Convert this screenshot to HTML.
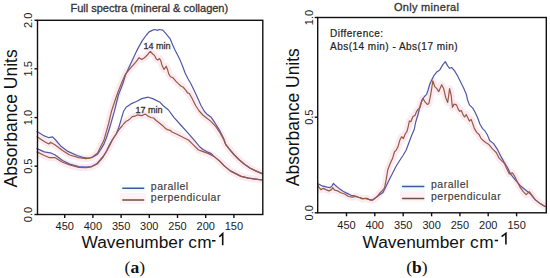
<!DOCTYPE html>
<html><head><meta charset="utf-8"><title>Absorbance spectra</title>
<style>
html,body{margin:0;padding:0;background:#fff;width:550px;height:278px;overflow:hidden}
svg{display:block}
text{font-family:"Liberation Sans",sans-serif}
.tick{font-size:11px;fill:#1a1a1a}
.ylab{font-size:17.5px;fill:#111}
.xlab{font-size:17.3px;fill:#111}
.title{font-size:11px;fill:#333;stroke:#333;stroke-width:0.3px}
.ann{font-size:9px;fill:#333;stroke:#333;stroke-width:0.3px}
.leg{font-size:10.5px;fill:#3a3a3a;letter-spacing:0.5px;stroke:#3a3a3a;stroke-width:0.15px}
.diff{font-size:10px;fill:#222;letter-spacing:0.47px;stroke:#222;stroke-width:0.2px}
.pan{font-family:"Liberation Serif",serif;font-weight:bold;font-size:17.5px;fill:#111}
</style></head>
<body>
<svg width="550" height="278" viewBox="0 0 550 278">
<rect width="550" height="278" fill="#fff"/>
<defs><clipPath id="cl"><rect x="37.5" y="20.3" width="225.3" height="194.2"/></clipPath>
<clipPath id="cr"><rect x="317.7" y="17.5" width="228.6" height="195.3"/></clipPath></defs>
<g fill="none" stroke-linejoin="round" stroke-linecap="round">
<path clip-path="url(#cl)" d="M37.0,136.8 L44.3,141.4 L48.8,144.0 L50.6,142.3 L55.2,145.0 L62.5,150.5 L69.7,155.0 L78.8,157.7 L86.1,158.6 L91.5,157.7 L97.6,152.9 L100.5,147.0 L103.9,140.3 L106.6,130.7 L108.5,124.0 L111.5,111.2 L115.2,100.0 L118.0,92.0 L122.0,82.0 L125.5,74.1 L130.9,67.7 L136.4,61.4 L139.1,57.7 L141.8,59.5 L144.5,57.7 L147.3,55.0 L150.3,51.4 L152.7,54.0 L154.5,55.4 L156.3,59.0 L157.7,59.9 L159.5,58.6 L160.8,60.8 L162.2,65.8 L164.0,69.4 L165.3,67.6 L166.2,66.2 L167.6,69.8 L168.9,74.3 L170.4,76.7 L173.1,77.8 L175.8,81.2 L178.5,83.9 L181.2,86.2 L183.0,87.0 L185.7,90.2 L187.5,92.9 L189.3,93.5 L192.0,98.3 L195.6,105.5 L199.2,111.0 L202.8,115.0 L205.7,117.3 L210.3,120.9 L215.7,126.4 L219.4,131.8 L223.9,140.0 L225.7,144.5 L229.4,149.1 L233.9,154.5 L239.4,160.0 L244.8,164.5 L250.3,168.2 L255.7,170.9 L262.1,173.6" stroke="#fbeaf1" stroke-width="7"/>
<path clip-path="url(#cl)" d="M37.0,151.9 L44.3,155.5 L49.7,157.7 L55.2,157.7 L62.5,162.3 L69.7,165.0 L78.8,167.4 L86.1,167.7 L91.5,166.8 L97.1,164.0 L103.1,157.0 L106.5,151.5 L110.0,145.0 L112.3,140.0 L115.6,134.7 L118.8,129.8 L122.0,126.0 L124.0,123.5 L126.3,121.2 L128.2,120.3 L130.0,118.9 L132.3,116.6 L135.0,116.2 L137.7,114.8 L140.0,115.3 L141.8,115.7 L144.1,114.4 L145.9,114.4 L148.2,116.2 L150.9,117.5 L153.6,118.0 L156.4,120.7 L160.0,123.5 L162.7,125.7 L165.5,128.5 L167.5,129.6 L170.0,130.3 L172.0,132.0 L177.5,134.5 L184.8,138.2 L188.5,140.0 L192.1,143.6 L198.5,150.0 L201.2,150.9 L208.5,153.6 L213.9,156.4 L219.4,160.9 L224.8,166.4 L230.3,170.9 L235.7,173.6 L241.2,176.4 L248.5,178.2 L255.7,179.1 L262.1,180.0" stroke="#fbeaf1" stroke-width="7"/>
<path clip-path="url(#cr)" d="M317.7,185.5 L320.8,189.6 L323.3,188.4 L325.8,189.6 L329.0,190.9 L331.5,189.6 L332.7,187.7 L334.6,190.2 L337.8,190.9 L340.9,192.8 L344.7,194.0 L348.4,196.5 L352.2,197.2 L356.0,196.5 L359.8,197.8 L362.3,199.0 L364.8,198.4 L367.3,198.4 L369.8,199.9 L372.3,200.3 L374.9,198.4 L377.1,196.5 L379.7,193.2 L382.5,190.5 L384.6,187.6 L386.2,179.4 L387.8,169.7 L390.3,163.2 L392.6,158.3 L394.4,152.0 L396.2,150.2 L398.0,146.6 L399.8,140.3 L401.6,136.7 L403.4,138.5 L405.2,134.0 L407.0,131.3 L407.9,128.0 L409.4,120.9 L410.8,121.7 L413.0,116.6 L415.1,115.2 L416.5,111.6 L418.0,109.4 L420.1,107.3 L421.6,101.5 L423.0,98.6 L425.2,102.2 L427.3,104.4 L428.8,103.7 L430.2,97.2 L431.7,88.5 L432.8,80.8 L434.8,86.7 L436.8,88.7 L438.8,91.6 L441.7,84.7 L443.7,88.7 L445.7,97.5 L447.7,102.5 L449.6,88.7 L451.2,95.6 L452.4,107.3 L454.1,104.1 L456.5,104.9 L458.1,108.9 L459.7,111.3 L461.3,110.5 L463.0,114.6 L464.6,117.0 L466.2,114.6 L467.8,117.8 L469.4,121.1 L471.1,119.4 L472.7,123.5 L474.3,128.4 L476.7,132.4 L479.2,134.8 L480.8,138.1 L483.2,140.5 L485.7,142.5 L488.9,144.6 L492.7,149.1 L496.4,152.7 L499.1,158.2 L501.8,160.9 L504.5,163.6 L506.4,167.9 L509.4,173.9 L512.4,172.9 L514.4,175.8 L517.3,181.8 L520.3,187.7 L523.3,191.7 L526.2,194.7 L529.2,191.7 L532.2,195.6 L535.1,199.6 L540.1,203.6 L545.0,206.5" stroke="#fbeaf1" stroke-width="7"/>
<path d="M37.0,131.6 L44.3,135.9 L48.8,137.7 L52.5,136.8 L55.2,139.5 L60.6,145.9 L67.9,151.4 L77.0,155.5 L84.3,157.7 L88.8,158.3 L93.4,156.8 L97.6,154.2 L101.0,149.0 L103.9,144.1 L106.4,137.8 L108.2,132.3 L110.4,125.2 L114.4,111.2 L116.4,103.0 L118.4,95.0 L122.7,84.1 L125.5,75.0 L130.9,63.2 L136.4,51.4 L141.8,41.4 L146.4,35.0 L149.1,31.9 L152.7,30.1 L155.5,29.5 L157.3,30.5 L159.1,29.5 L162.7,30.1 L165.5,33.2 L170.0,38.6 L172.7,45.0 L175.0,50.0 L177.2,54.3 L180.1,60.1 L183.0,67.3 L185.1,73.0 L188.0,78.8 L190.9,83.8 L193.7,89.6 L196.5,95.6 L201.0,105.5 L204.5,111.5 L207.0,114.2 L211.2,117.3 L214.8,122.7 L219.4,130.0 L223.9,139.1 L225.7,144.5 L229.4,149.1 L233.9,154.5 L239.4,160.0 L244.8,164.5 L250.3,168.2 L255.7,170.9 L262.1,173.6" stroke="#4f58a4" stroke-width="1.2"/>
<path d="M37.0,136.8 L44.3,141.4 L48.8,144.0 L50.6,142.3 L55.2,145.0 L62.5,150.5 L69.7,155.0 L78.8,157.7 L86.1,158.6 L91.5,157.7 L97.6,152.9 L100.5,147.0 L103.9,140.3 L106.6,130.7 L108.5,124.0 L111.5,111.2 L115.2,100.0 L118.0,92.0 L122.0,82.0 L125.5,74.1 L130.9,67.7 L136.4,61.4 L139.1,57.7 L141.8,59.5 L144.5,57.7 L147.3,55.0 L150.3,51.4 L152.7,54.0 L154.5,55.4 L156.3,59.0 L157.7,59.9 L159.5,58.6 L160.8,60.8 L162.2,65.8 L164.0,69.4 L165.3,67.6 L166.2,66.2 L167.6,69.8 L168.9,74.3 L170.4,76.7 L173.1,77.8 L175.8,81.2 L178.5,83.9 L181.2,86.2 L183.0,87.0 L185.7,90.2 L187.5,92.9 L189.3,93.5 L192.0,98.3 L195.6,105.5 L199.2,111.0 L202.8,115.0 L205.7,117.3 L210.3,120.9 L215.7,126.4 L219.4,131.8 L223.9,140.0 L225.7,144.5 L229.4,149.1 L233.9,154.5 L239.4,160.0 L244.8,164.5 L250.3,168.2 L255.7,170.9 L262.1,173.6" stroke="#965a42" stroke-width="1.2"/>
<path d="M37.0,148.6 L44.3,151.9 L51.5,153.2 L55.2,155.0 L62.5,160.5 L69.7,164.1 L78.8,166.5 L86.1,167.2 L91.5,166.5 L97.1,163.5 L103.1,156.5 L106.5,151.0 L109.9,144.0 L112.5,139.5 L116.3,134.0 L118.8,127.4 L121.2,119.3 L123.6,111.2 L126.1,107.2 L130.9,103.9 L136.4,101.5 L141.8,98.6 L148.2,97.2 L152.7,98.6 L160.0,102.3 L163.0,105.5 L168.5,110.0 L173.9,117.3 L181.2,125.5 L188.5,133.6 L195.7,141.8 L199.4,146.5 L203.0,149.5 L206.6,151.6 L211.2,153.6 L213.9,156.4 L219.4,160.9 L224.8,166.4 L230.3,170.9 L235.7,173.6 L241.2,176.4 L248.5,178.2 L255.7,179.1 L262.1,180.0" stroke="#4f58a4" stroke-width="1.2"/>
<path d="M37.0,151.9 L44.3,155.5 L49.7,157.7 L55.2,157.7 L62.5,162.3 L69.7,165.0 L78.8,167.4 L86.1,167.7 L91.5,166.8 L97.1,164.0 L103.1,157.0 L106.5,151.5 L110.0,145.0 L112.3,140.0 L115.6,134.7 L118.8,129.8 L122.0,126.0 L124.0,123.5 L126.3,121.2 L128.2,120.3 L130.0,118.9 L132.3,116.6 L135.0,116.2 L137.7,114.8 L140.0,115.3 L141.8,115.7 L144.1,114.4 L145.9,114.4 L148.2,116.2 L150.9,117.5 L153.6,118.0 L156.4,120.7 L160.0,123.5 L162.7,125.7 L165.5,128.5 L167.5,129.6 L170.0,130.3 L172.0,132.0 L177.5,134.5 L184.8,138.2 L188.5,140.0 L192.1,143.6 L198.5,150.0 L201.2,150.9 L208.5,153.6 L213.9,156.4 L219.4,160.9 L224.8,166.4 L230.3,170.9 L235.7,173.6 L241.2,176.4 L248.5,178.2 L255.7,179.1 L262.1,180.0" stroke="#965a42" stroke-width="1.2"/>
<path d="M317.7,183.8 L322.0,185.8 L327.1,187.1 L330.2,187.7 L332.1,185.8 L333.4,183.3 L335.2,185.2 L339.0,188.4 L343.4,191.5 L347.2,193.4 L351.0,195.3 L354.7,195.9 L358.5,197.2 L362.3,198.4 L366.1,198.7 L369.8,199.7 L372.3,199.9 L376.0,197.5 L379.7,194.8 L383.0,192.4 L386.2,185.9 L389.4,179.4 L392.7,173.0 L395.9,166.5 L400.0,160.0 L403.0,155.5 L406.1,150.2 L408.8,143.0 L411.5,135.8 L414.2,129.5 L415.8,121.7 L418.0,114.5 L420.1,105.8 L422.3,99.4 L424.5,96.5 L426.6,94.3 L428.1,90.0 L429.5,85.0 L430.9,81.7 L433.8,75.8 L436.8,71.9 L439.8,69.9 L442.7,64.9 L445.3,61.6 L447.7,65.9 L449.6,68.3 L451.6,67.5 L454.6,70.9 L457.5,75.8 L460.5,81.7 L463.5,87.7 L466.4,94.6 L467.6,100.0 L469.4,104.9 L472.7,108.1 L475.1,112.2 L477.6,117.8 L480.0,124.3 L482.4,128.4 L484.8,130.8 L487.3,134.8 L489.7,140.5 L493.6,143.6 L497.3,149.1 L500.9,156.4 L504.5,162.7 L508.0,168.5 L510.4,173.9 L515.3,179.8 L520.3,185.7 L525.2,189.7 L530.2,193.7 L535.1,199.6 L540.1,203.6 L545.0,206.5" stroke="#4f58a4" stroke-width="1.2"/>
<path d="M317.7,185.5 L320.8,189.6 L323.3,188.4 L325.8,189.6 L329.0,190.9 L331.5,189.6 L332.7,187.7 L334.6,190.2 L337.8,190.9 L340.9,192.8 L344.7,194.0 L348.4,196.5 L352.2,197.2 L356.0,196.5 L359.8,197.8 L362.3,199.0 L364.8,198.4 L367.3,198.4 L369.8,199.9 L372.3,200.3 L374.9,198.4 L377.1,196.5 L379.7,193.2 L382.5,190.5 L384.6,187.6 L386.2,179.4 L387.8,169.7 L390.3,163.2 L392.6,158.3 L394.4,152.0 L396.2,150.2 L398.0,146.6 L399.8,140.3 L401.6,136.7 L403.4,138.5 L405.2,134.0 L407.0,131.3 L407.9,128.0 L409.4,120.9 L410.8,121.7 L413.0,116.6 L415.1,115.2 L416.5,111.6 L418.0,109.4 L420.1,107.3 L421.6,101.5 L423.0,98.6 L425.2,102.2 L427.3,104.4 L428.8,103.7 L430.2,97.2 L431.7,88.5 L432.8,80.8 L434.8,86.7 L436.8,88.7 L438.8,91.6 L441.7,84.7 L443.7,88.7 L445.7,97.5 L447.7,102.5 L449.6,88.7 L451.2,95.6 L452.4,107.3 L454.1,104.1 L456.5,104.9 L458.1,108.9 L459.7,111.3 L461.3,110.5 L463.0,114.6 L464.6,117.0 L466.2,114.6 L467.8,117.8 L469.4,121.1 L471.1,119.4 L472.7,123.5 L474.3,128.4 L476.7,132.4 L479.2,134.8 L480.8,138.1 L483.2,140.5 L485.7,142.5 L488.9,144.6 L492.7,149.1 L496.4,152.7 L499.1,158.2 L501.8,160.9 L504.5,163.6 L506.4,167.9 L509.4,173.9 L512.4,172.9 L514.4,175.8 L517.3,181.8 L520.3,187.7 L523.3,191.7 L526.2,194.7 L529.2,191.7 L532.2,195.6 L535.1,199.6 L540.1,203.6 L545.0,206.5" stroke="#965a42" stroke-width="1.2"/>
</g>
<g stroke="#111" stroke-width="1.4" fill="none">
<rect x="37.5" y="20.3" width="225.3" height="194.2"/>
<rect x="317.7" y="17.5" width="228.6" height="195.3"/>
<line x1="34.5" y1="20.3" x2="37.5" y2="20.3" /><line x1="34.5" y1="68.8" x2="37.5" y2="68.8" /><line x1="34.5" y1="117.6" x2="37.5" y2="117.6" /><line x1="34.5" y1="166.2" x2="37.5" y2="166.2" /><line x1="34.5" y1="214.5" x2="37.5" y2="214.5" /><line x1="314.7" y1="17.5" x2="317.7" y2="17.5" /><line x1="314.7" y1="117.2" x2="317.7" y2="117.2" /><line x1="314.7" y1="212.8" x2="317.7" y2="212.8" />
<line x1="64.7" y1="214.5" x2="64.7" y2="218.0" /><line x1="92.9" y1="214.5" x2="92.9" y2="218.0" /><line x1="121.1" y1="214.5" x2="121.1" y2="218.0" /><line x1="149.3" y1="214.5" x2="149.3" y2="218.0" /><line x1="177.5" y1="214.5" x2="177.5" y2="218.0" /><line x1="205.7" y1="214.5" x2="205.7" y2="218.0" /><line x1="233.9" y1="214.5" x2="233.9" y2="218.0" /><line x1="346.5" y1="212.8" x2="346.5" y2="216.3" /><line x1="374.8" y1="212.8" x2="374.8" y2="216.3" /><line x1="403.2" y1="212.8" x2="403.2" y2="216.3" /><line x1="431.6" y1="212.8" x2="431.6" y2="216.3" /><line x1="459.9" y1="212.8" x2="459.9" y2="216.3" /><line x1="488.2" y1="212.8" x2="488.2" y2="216.3" /><line x1="516.6" y1="212.8" x2="516.6" y2="216.3" />
</g>
<rect x="120" y="184.5" width="26" height="7.5" fill="#f1fcfc"/>
<rect x="120" y="193" width="26" height="11" fill="#fdf3f7"/>
<rect x="400" y="184" width="25" height="7.5" fill="#eefcfc"/>
<rect x="400" y="191.5" width="25" height="10" fill="#fdf1f6"/>
<g stroke-width="1.5" stroke-linecap="round">
<line x1="122.8" y1="188.3" x2="143.6" y2="188.3" stroke="#44549e"/>
<line x1="122.8" y1="200.1" x2="143.6" y2="200.1" stroke="#74503e"/>
<line x1="402.6" y1="186.5" x2="423.7" y2="186.5" stroke="#44549e"/>
<line x1="402.6" y1="198.5" x2="423.7" y2="198.5" stroke="#74503e"/>
</g>
<g stroke="#111" fill="none" stroke-width="1.6">
<path d="M212,240.8 H215.5"/><path d="M222.7,245.2 V233.6 L219.3,236.8"/>
<path d="M494.7,240.5 H498.1"/><path d="M505.9,244.6 V233.4 L501.6,236.6"/>
</g>
<g fill="#222" font-family="Liberation Sans, sans-serif">
<text x="64.7" y="230.1" text-anchor="middle" class="tick">450</text><text x="92.9" y="230.1" text-anchor="middle" class="tick">400</text><text x="121.1" y="230.1" text-anchor="middle" class="tick">350</text><text x="149.3" y="230.1" text-anchor="middle" class="tick">300</text><text x="177.5" y="230.1" text-anchor="middle" class="tick">250</text><text x="205.7" y="230.1" text-anchor="middle" class="tick">200</text><text x="233.9" y="230.1" text-anchor="middle" class="tick">150</text><text x="346.5" y="228.6" text-anchor="middle" class="tick">450</text><text x="374.8" y="228.6" text-anchor="middle" class="tick">400</text><text x="403.2" y="228.6" text-anchor="middle" class="tick">350</text><text x="431.6" y="228.6" text-anchor="middle" class="tick">300</text><text x="459.9" y="228.6" text-anchor="middle" class="tick">250</text><text x="488.2" y="228.6" text-anchor="middle" class="tick">200</text><text x="516.6" y="228.6" text-anchor="middle" class="tick">150</text>
<text x="0" y="0" transform="translate(32.3,20.3) rotate(-90)" text-anchor="middle" class="tick">2.0</text><text x="0" y="0" transform="translate(32.3,68.8) rotate(-90)" text-anchor="middle" class="tick">1.5</text><text x="0" y="0" transform="translate(32.3,117.6) rotate(-90)" text-anchor="middle" class="tick">1.0</text><text x="0" y="0" transform="translate(32.3,166.2) rotate(-90)" text-anchor="middle" class="tick">0.5</text><text x="0" y="0" transform="translate(32.3,214.5) rotate(-90)" text-anchor="middle" class="tick">0.0</text><text x="0" y="0" transform="translate(313.2,17.5) rotate(-90)" text-anchor="middle" class="tick">1.0</text><text x="0" y="0" transform="translate(313.2,117.2) rotate(-90)" text-anchor="middle" class="tick">0.5</text><text x="0" y="0" transform="translate(313.2,212.8) rotate(-90)" text-anchor="middle" class="tick">0.0</text>
<text class="ylab" transform="translate(16.6,118.4) rotate(-90)" text-anchor="middle">Absorbance Units</text>
<text class="ylab" transform="translate(299.4,117.2) rotate(-90)" text-anchor="middle">Absorbance Units</text>
<text class="xlab" x="81.6" y="248.4">Wavenumber</text><text class="xlab" x="188.3" y="248.4" letter-spacing="0.4">cm</text>
<text class="xlab" x="362.6" y="247.6">Wavenumber</text><text class="xlab" x="470.1" y="247.6" letter-spacing="0.4">cm</text>
<text class="title" x="149.3" y="11.6" text-anchor="middle">Full spectra (mineral &amp; collagen)</text>
<text class="title" x="426.6" y="10.9" text-anchor="middle" letter-spacing="0.3">Only mineral</text>
<text class="ann" x="143.6" y="48.6">14 min</text>
<text class="ann" x="135.5" y="113.2">17 min</text>
<text class="leg" x="150.8" y="189.6">parallel</text>
<text class="leg" x="150.8" y="200.5">perpendicular</text>
<text class="leg" x="431" y="188.4">parallel</text>
<text class="leg" x="431" y="199.6">perpendicular</text>
<text class="diff" x="330.1" y="36.5">Difference:</text>
<text class="diff" x="330.1" y="49.8">Abs(14 min) - Abs(17 min)</text>
<text class="pan" x="134.8" y="272.7" text-anchor="middle"><tspan font-weight="normal">(</tspan>a<tspan font-weight="normal">)</tspan></text>
<text class="pan" x="416.9" y="273" text-anchor="middle"><tspan font-weight="normal">(</tspan>b<tspan font-weight="normal">)</tspan></text>
</g>
</svg>
</body></html>
